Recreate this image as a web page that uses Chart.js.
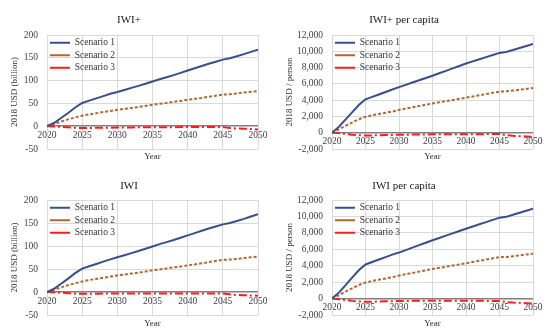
<!DOCTYPE html>
<html><head><meta charset="utf-8">
<script src="https://cdn.jsdelivr.net/npm/chart.js@4/dist/chart.umd.min.js"></script>
<style>
body{margin:0;background:#fff;width:550px;height:333px;position:relative;overflow:hidden}
.c{position:absolute;width:275px}
</style></head><body>
<div class="c" style="left:0;top:0;height:166px"><canvas id="c1"></canvas></div>
<div class="c" style="left:275px;top:0;height:166px"><canvas id="c2"></canvas></div>
<div class="c" style="left:0;top:166px;height:167px"><canvas id="c3"></canvas></div>
<div class="c" style="left:275px;top:166px;height:167px"><canvas id="c4"></canvas></div>
<script>
const years = [2020,2021,2022,2023,2024,2025,2026,2027,2028,2029,2030,2031,2032,2033,2034,2035,2036,2037,2038,2039,2040,2041,2042,2043,2044,2045,2046,2047,2048,2049,2050];
const xTicks = [2020,2025,2030,2035,2040,2045,2050];
const xTickLabels = ['2020','2025','2030','2035','2040','2045','2050'];
const yTicksBillion = [-50,0,50,100,150,200];
const yTicksPerson = [-2000,0,2000,4000,6000,8000,10000,12000];
const seriesNames = ['Scenario 1','Scenario 2','Scenario 3'];
const titles = ['IWI+','IWI+ per capita','IWI','IWI per capita'];
const yTitles = ['2018 USD (billion)','2018 USD / person','2018 USD (billion)','2018 USD / person'];

// IWI+ (billion)
const iwiPlusS1 = [0,7,18,29,41,51,56,61,66,71,75,79.5,84,88.5,93,98,103,107.5,112,117,122,127,132,137,141.5,146,149,153.5,158,163,168];
const iwiPlusS2 = [0,5,10,15,19,23,26,28.5,31,33.5,36,38,40,42,44.5,47,49,51,53.5,55.5,58,60,62,64.5,67,69.5,70,72,74,75.5,77];
const iwiPlusS3 = [0,-0.5,-1.5,-2.5,-3.5,-4,-3.8,-3.6,-3.4,-3.2,-3,-2.8,-2.6,-2.5,-2.3,-2.2,-2.2,-2.1,-2.1,-2,-2,-2,-2,-2,-2,-2,-4,-5,-5.5,-6,-7];
// IWI+ per capita
const iwiPlusPcS1 = [0,700,1600,2500,3400,4100,4400,4700,5000,5300,5600,5880,6160,6440,6720,7000,7300,7600,7900,8200,8500,8760,9020,9280,9540,9800,9920,10150,10400,10650,10900];
const iwiPlusPcS2 = [0,400,850,1250,1650,1950,2150,2300,2450,2600,2800,2960,3120,3280,3440,3600,3740,3880,4020,4160,4300,4450,4600,4750,4900,5050,5080,5180,5280,5380,5500];
const iwiPlusPcS3 = [0,-50,-150,-250,-300,-350,-330,-310,-290,-270,-250,-240,-230,-220,-210,-200,-200,-200,-200,-200,-200,-190,-180,-170,-160,-150,-300,-380,-420,-460,-500];
// IWI (billion)
const iwiS1 = [0,7,18,29,41,51,56,61,66,71,75.5,80,84.5,89,94,99,104,108.5,113,118,123,128,133,138,142.5,147,150,154.5,159,164,169];
const iwiS2 = [0,5,10,15,19,23,26,28.5,31,33.5,36,38,40,42,44.5,47,49,51,53.5,55.5,58,60,62.5,65,67.5,70,70.5,72,74,75.5,77];
const iwiS3 = [0,-0.5,-1.5,-2.5,-3.5,-4,-3.8,-3.6,-3.4,-3.2,-3,-3,-3,-3,-3,-3,-3,-3,-3,-3,-3,-3,-3,-3,-3,-3,-5,-6.5,-7,-7.5,-8];
// IWI per capita
const iwiPcS1 = [0,700,1600,2550,3450,4150,4450,4750,5050,5350,5600,5900,6200,6500,6800,7100,7380,7660,7940,8220,8500,8770,9040,9310,9580,9850,9950,10200,10450,10700,10950];
const iwiPcS2 = [0,400,850,1250,1650,1950,2150,2300,2450,2600,2800,2960,3120,3280,3440,3600,3740,3880,4020,4160,4300,4450,4600,4750,4900,5050,5060,5160,5260,5360,5450];
const iwiPcS3 = [0,-80,-180,-280,-350,-400,-380,-360,-340,-320,-300,-290,-280,-270,-260,-250,-250,-250,-250,-250,-250,-260,-270,-280,-290,-300,-420,-480,-520,-560,-600];

const colors = ['#34508f','#b5652e','#ff1a1a'];
const dashes = [[],[3,2],[8,3,2,3]];
const SERIF = "'Liberation Serif', 'DejaVu Serif', serif";

// keeps the legend inside the plot area (top-left corner)
const legendInside = {
  id: 'legendInside',
  afterLayout(chart) {
    const lg = chart.legend, ca = chart.chartArea;
    if (!lg) return;
    const h = lg.height;
    lg.top = ca.top; lg.bottom = ca.top + h;
    lg.left = ca.left; lg.right = ca.left + lg.width;
  }
};

function makeChart(id, idx, s1, s2, s3, yTickVals, cfg) {
  const series = [s1, s2, s3];
  const datasets = series.map((s, i) => ({
    label: seriesNames[i],
    data: years.map((y, k) => ({x: y, y: s[k]})),
    borderColor: colors[i],
    backgroundColor: colors[i],
    borderWidth: 2,
    borderDash: dashes[i],
    pointRadius: 0,
    tension: 0,
    fill: false
  }));
  new Chart(document.getElementById(id), {
    type: 'line',
    data: {datasets},
    plugins: [legendInside],
    options: {
      responsive: true, maintainAspectRatio: false, animation: false, devicePixelRatio: 1,
      layout: {padding: {left: 0, right: 17, top: 0, bottom: 0}},
      plugins: {
        title: {display: true, text: titles[idx], color: '#1a1a1a',
          font: {family: SERIF, size: 11, weight: 'normal', lineHeight: 1.2},
          padding: {top: cfg.titleTop, bottom: cfg.titleBottom}},
        legend: {position: 'chartArea', align: 'start',
          labels: {usePointStyle: true, pointStyle: 'line', pointStyleWidth: 20, padding: 3, color: '#333',
            font: {family: SERIF, size: 9.5}}},
        tooltip: {enabled: false}
      },
      scales: {
        x: {type: 'linear', min: 2020, max: 2050, position: {y: 0},
          afterBuildTicks: sc => { sc.ticks = xTicks.map(v => ({value: v})); },
          ticks: {autoSkip: false, maxRotation: 0, padding: 3.5, color: '#404040',
            font: {family: SERIF, size: 9.5},
            callback: (v) => { const k = xTicks.indexOf(v); return k >= 0 ? xTickLabels[k] : ''; }},
          grid: {color: '#d9d9d9', lineWidth: 1, drawTicks: false},
          border: {display: false}},
        x2: {type: 'linear', min: 2020, max: 2050, position: 'bottom', axis: 'x',
          ticks: {display: false}, grid: {display: false}, border: {display: false},
          title: {display: true, text: 'Year', color: '#333',
            font: {family: SERIF, size: 9, lineHeight: 1.2}, padding: {top: 0, bottom: 3.5}},
          afterFit: sc => { sc.height = cfg.xTitleH; }},
        y: {type: 'linear', min: yTickVals[0], max: yTickVals[yTickVals.length - 1],
          afterBuildTicks: sc => { sc.ticks = yTickVals.map(v => ({value: v})); },
          ticks: {padding: 9, color: '#404040', font: {family: SERIF, size: 9.5}},
          grid: {color: c => c.tick && c.tick.value === 0 ? '#808080' : '#d9d9d9',
                 lineWidth: c => c.tick && c.tick.value === 0 ? 1.6 : 1, drawTicks: false},
          border: {color: '#d9d9d9'},
          title: {display: true, text: yTitles[idx], color: '#333',
            font: {family: SERIF, size: 9, lineHeight: 1.2}, padding: {top: 9.5, bottom: 0}},
          afterFit: sc => { sc.width = cfg.yW; }}
      }
    }
  });
}

makeChart('c1', 0, iwiPlusS1, iwiPlusS2, iwiPlusS3, yTicksBillion, {titleTop: 14, titleBottom: 7.8, xTitleH: 17, yW: 47});
makeChart('c2', 1, iwiPlusPcS1, iwiPlusPcS2, iwiPlusPcS3, yTicksPerson, {titleTop: 14, titleBottom: 7.8, xTitleH: 17, yW: 57});
makeChart('c3', 2, iwiS1, iwiS2, iwiS3, yTicksBillion, {titleTop: 13.4, titleBottom: 7.4, xTitleH: 18, yW: 47});
makeChart('c4', 3, iwiPcS1, iwiPcS2, iwiPcS3, yTicksPerson, {titleTop: 13.4, titleBottom: 7.4, xTitleH: 18, yW: 57});
</script>
</body></html>
